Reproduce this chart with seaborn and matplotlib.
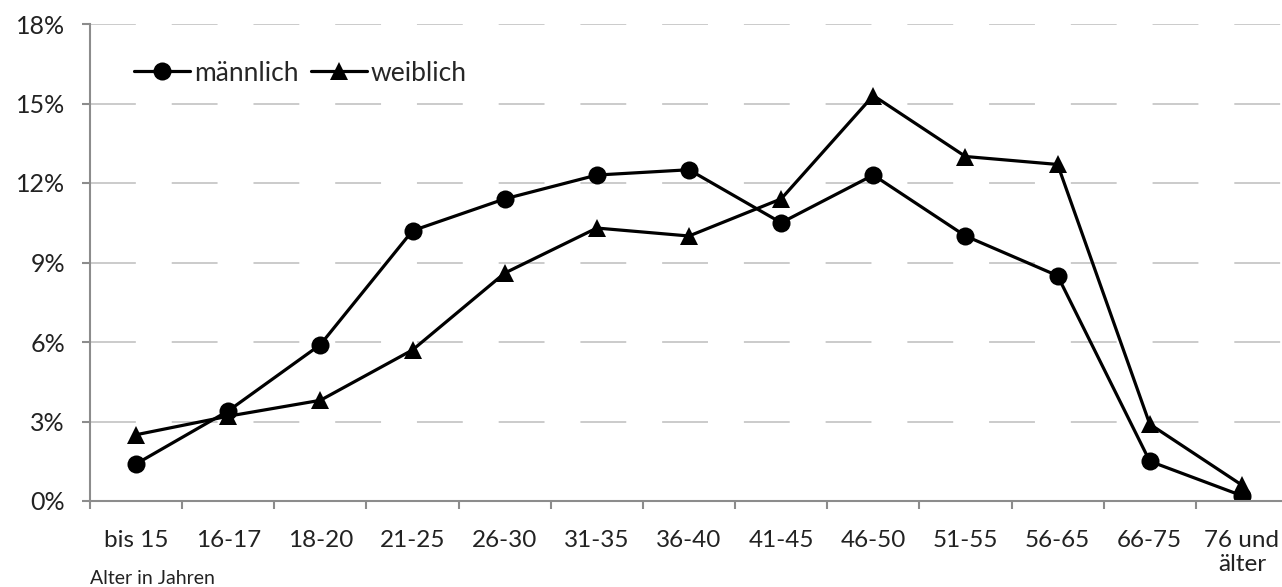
import matplotlib
matplotlib.use("Agg")
import matplotlib.pyplot as plt
from matplotlib.ticker import FixedLocator, FuncFormatter
import seaborn as sns
import pandas as pd

# Altersgruppen und Anteile (in %)
altersgruppen = ["bis 15", "16-17", "18-20", "21-25", "26-30", "31-35", "36-40",
                 "41-45", "46-50", "51-55", "56-65", "66-75", "76 und\nälter"]
maennlich = [1.4, 3.4, 5.9, 10.2, 11.4, 12.3, 12.5, 10.5, 12.3, 10.0, 8.5, 1.5, 0.2]
weiblich = [2.5, 3.2, 3.8, 5.7, 8.6, 10.3, 10.0, 11.4, 15.3, 13.0, 12.7, 2.9, 0.6]
y_ticks = [0, 3, 6, 9, 12, 15, 18]

df = pd.DataFrame({
    "pos": list(range(len(altersgruppen))) * 2,
    "Anteil": maennlich + weiblich,
    "Geschlecht": ["männlich"] * len(maennlich) + ["weiblich"] * len(weiblich),
})

sns.set_theme(style="white")
plt.rcParams["font.family"] = ["Lato", "DejaVu Sans"]

fig = plt.figure(figsize=(12.82, 5.87), dpi=100)
ax = fig.add_axes([90 / 1282, 1 - 501 / 587, 1198 / 1282, 477 / 587])

sns.lineplot(
    data=df, x="pos", y="Anteil", hue="Geschlecht", style="Geschlecht",
    palette={"männlich": "black", "weiblich": "black"},
    markers={"männlich": "o", "weiblich": "^"}, dashes=False,
    linewidth=2.3, markersize=13, markeredgewidth=0, ax=ax, legend=False,
)

ax.set_xlim(-0.5, len(altersgruppen) - 0.5)
ax.set_ylim(0, 18)

# horizontal dashed grid
for y in y_ticks[1:]:
    ax.axhline(y, color="#bdbdbd", linewidth=1.1, dashes=(30, 23.5), zorder=0)

ax.yaxis.set_major_locator(FixedLocator(y_ticks))
ax.yaxis.set_major_formatter(FuncFormatter(lambda v, p: f"{int(v)}%"))
ax.set_xticks(range(len(altersgruppen)))
ax.set_xticklabels(altersgruppen)
ax.xaxis.set_minor_locator(FixedLocator([i - 0.5 for i in range(len(altersgruppen) + 1)]))

for s in ["top", "right"]:
    ax.spines[s].set_visible(False)
for s in ["left", "bottom"]:
    ax.spines[s].set_color("#8c8c8c")
    ax.spines[s].set_linewidth(1.5)

ax.tick_params(axis="y", which="major", left=True, length=6, width=1.5, color="#8c8c8c",
               labelsize=18, labelcolor="#222222", pad=12)
ax.tick_params(axis="x", which="major", bottom=False, labelsize=17.5, labelcolor="#222222", pad=15)
ax.tick_params(axis="x", which="minor", bottom=True, length=6, width=1.5, color="#8c8c8c")
for lbl in ax.get_xticklabels():
    lbl.set_linespacing(1.15)

ax.set_xlabel("")
ax.set_ylabel("")
fig.text(90 / 1282, 1 - 578 / 587, "Alter in Jahren", fontsize=14, color="#222222",
         ha="left", va="center")

handles = [
    plt.Line2D([], [], color="black", linewidth=2.3, marker="o", markersize=13, markeredgewidth=0),
    plt.Line2D([], [], color="black", linewidth=2.3, marker="^", markersize=13, markeredgewidth=0),
]
ax.legend(handles, ["männlich", "weiblich"], loc="center left", bbox_to_anchor=(0.037, 0.897),
          ncol=2, frameon=False, fontsize=19, handlelength=2.1, handletextpad=0.15,
          columnspacing=0.5, borderpad=0, borderaxespad=0)

fig.savefig("out.png", dpi=100)
